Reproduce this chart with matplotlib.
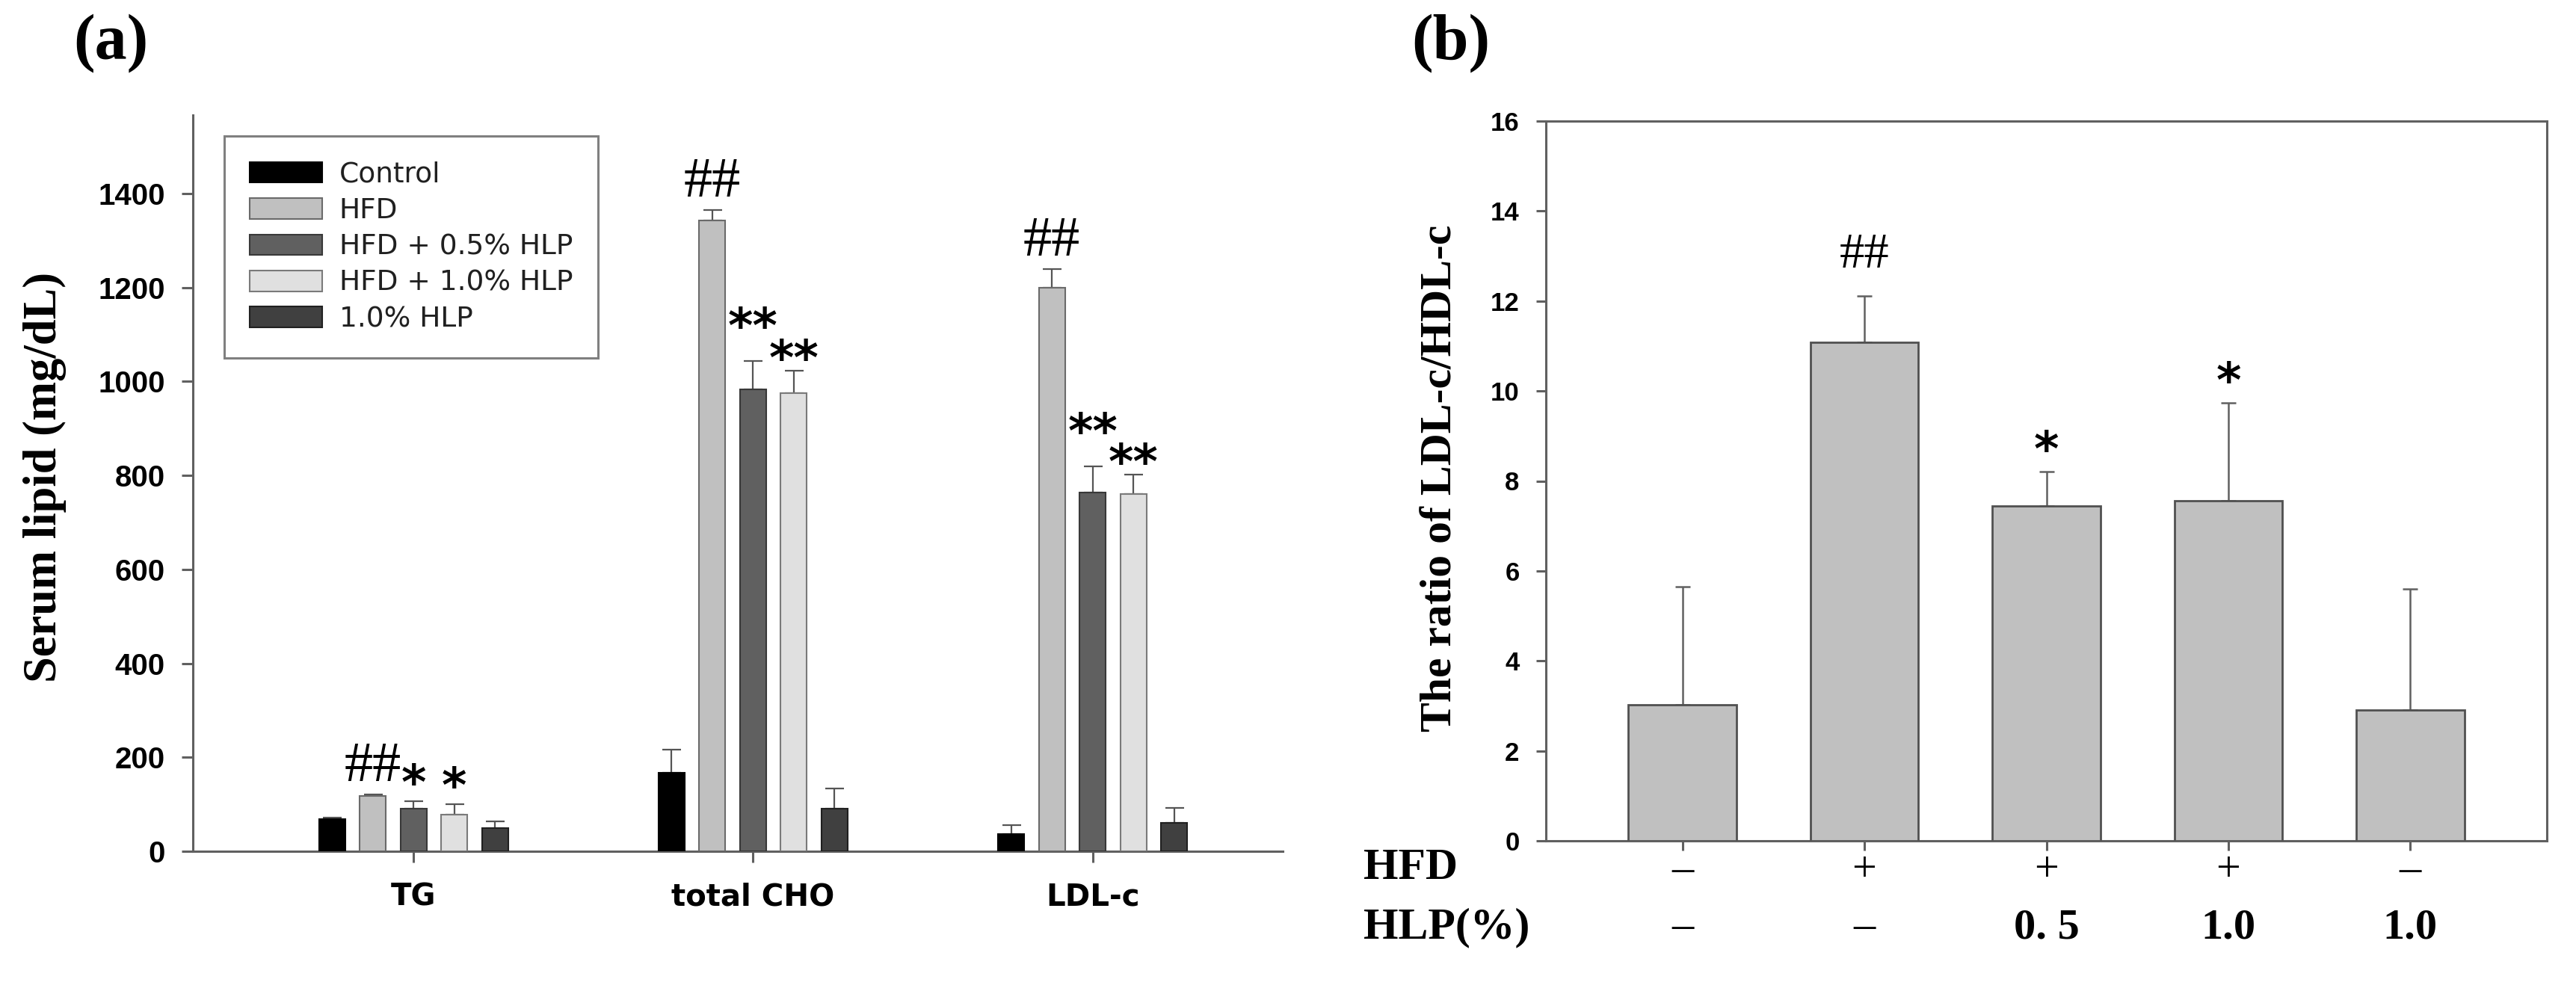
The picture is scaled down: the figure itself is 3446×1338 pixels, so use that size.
import matplotlib
matplotlib.use('Agg')
import matplotlib.pyplot as plt
import numpy as np
from matplotlib.font_manager import FontProperties
from matplotlib.transforms import offset_copy, blended_transform_factory

# ---------------- data ----------------
categories = ['TG', 'total CHO', 'LDL-c']
groups = ['Control', 'HFD', 'HFD + 0.5% HLP', 'HFD + 1.0% HLP', '1.0% HLP']

control = [69, 167, 37]
control_err = [3, 49, 19]
hfd = [118, 1342, 1199]
hfd_err = [3, 23, 40]
hfd_05 = [91, 983, 763]
hfd_05_err = [16, 60, 57]
hfd_10 = [78, 975, 760]
hfd_10_err = [22, 48, 42]
hlp_10 = [49, 91, 61]
hlp_10_err = [15, 43, 32]

# significance marks per series (index aligned with categories)
marks_a = [
    ['', '', ''],
    ['##', '##', '##'],
    ['*', '**', '**'],
    ['*', '**', '**'],
    ['', '', ''],
]

ratio_values = [3.02, 11.08, 7.44, 7.56, 2.90]
ratio_err = [2.63, 1.03, 0.76, 2.17, 2.70]
ratio_marks = ['', '##', '*', '*', '']
hfd_row = ['\u2013', '+', '+', '+', '\u2013']
hlp_row = ['\u2013', '\u2013', '0. 5', '1.0', '1.0']

# ---------------- styling ----------------
W, H = 3446, 1338
fig = plt.figure(figsize=(W / 100, H / 100), dpi=100)

serif_b = dict(family='Liberation Serif', weight='bold')
spine_col = '#606060'

# ---------- panel (a) ----------
axA = fig.add_axes([258 / W, 1 - 1139 / H, (1716 - 258) / W, (1139 - 154) / H])
series = [control, hfd, hfd_05, hfd_10, hlp_10]
series_err = [control_err, hfd_err, hfd_05_err, hfd_10_err, hlp_10_err]
fills = ['#000000', '#c0c0c0', '#606060', '#e0e0e0', '#404040']
edges = ['#000000', '#6a6a6a', '#383838', '#7a7a7a', '#202020']
star_lift = [0, 0, 25, -5, 0]   # pixel lift of the double-star marks per series
step, width = 0.12, 0.077
xc = np.arange(len(categories))
for i, (vals, errs) in enumerate(zip(series, series_err)):
    x = xc + (i - 2) * step
    axA.errorbar(x, vals, yerr=[np.zeros(len(vals)), errs], fmt='none',
                 ecolor='#555555', elinewidth=1.6, capsize=9, capthick=1.6, zorder=2)
    axA.bar(x, vals, width, color=fills[i], edgecolor=edges[i], linewidth=1.5,
            label=groups[i], zorder=3)
    for j, m in enumerate(marks_a[i]):
        if not m:
            continue
        top = vals[j] + errs[j]
        if m == '##':
            tr = offset_copy(axA.transData, fig=fig, x=0, y=18, units='dots')
            axA.text(x[j], top, m, transform=tr, ha='center', va='baseline',
                     family='Liberation Serif', fontsize=55, zorder=5)
        else:
            lift = star_lift[i] if m == '**' else 3
            tr = offset_copy(axA.transData, fig=fig, x=0, y=lift, units='dots')
            axA.text(x[j], top, m, transform=tr, ha='center', va='baseline',
                     family='DejaVu Sans', weight='bold', fontsize=46, zorder=5)

axA.set_xlim(-0.65, 2.56)
axA.set_ylim(0, 1567)
axA.set_yticks(np.arange(0, 1401, 200))
axA.set_xticks(xc)
axA.set_xticklabels(categories)
for s in ['top', 'right']:
    axA.spines[s].set_visible(False)
for s in ['left', 'bottom']:
    axA.spines[s].set_color(spine_col)
    axA.spines[s].set_linewidth(2.2)
axA.tick_params(axis='both', direction='out', length=10.8, width=2.2, color=spine_col)
axA.tick_params(axis='y', pad=16)
axA.tick_params(axis='x', pad=19)
for lab in axA.get_yticklabels():
    lab.set_fontproperties(FontProperties(family='Liberation Sans', weight='bold', size=29))
for lab in axA.get_xticklabels():
    lab.set_fontproperties(FontProperties(family='DejaVu Sans', weight='bold', size=29))

leg = axA.legend(loc='upper left', bbox_to_anchor=(300 / W, 1 - 182 / H),
                 bbox_transform=fig.transFigure, borderaxespad=0,
                 prop=FontProperties(family='DejaVu Sans', size=27),
                 handlelength=2.6, handleheight=0.75, handletextpad=0.6,
                 labelspacing=0.33, borderpad=0.9, frameon=True, fancybox=False,
                 edgecolor='#808080', framealpha=1)
leg.get_frame().set_linewidth(2.2)
for t in leg.get_texts():
    t.set_color('#202020')

fig.text(98 / W, 1 - 18 / H, '(a)', ha='left', va='top', fontsize=62, **serif_b)
fig.text(0.0174, 0.523, 'Serum lipid (mg/dL)', rotation=90, ha='center', va='center',
         fontsize=45, **serif_b)

# ---------- panel (b) ----------
axB = fig.add_axes([2068 / W, 1 - 1125 / H, (3407 - 2068) / W, (1125 - 162) / H])
xb = np.arange(len(ratio_values))
axB.errorbar(xb, ratio_values, yerr=[np.zeros(len(xb)), ratio_err], fmt='none',
             ecolor='#606060', elinewidth=1.8, capsize=7, capthick=1.8, zorder=2)
axB.bar(xb, ratio_values, 0.595, color='#c0c0c0', edgecolor='#505050', linewidth=2, zorder=3)
for j, m in enumerate(ratio_marks):
    if not m:
        continue
    top = ratio_values[j] + ratio_err[j]
    if m == '##':
        tr = offset_copy(axB.transData, fig=fig, x=0, y=38, units='dots')
        axB.text(xb[j], top, m, transform=tr, ha='center', va='baseline',
                 family='Liberation Serif', fontsize=48, zorder=5)
    else:
        tr = offset_copy(axB.transData, fig=fig, x=0, y=8, units='dots')
        axB.text(xb[j], top, m, transform=tr, ha='center', va='baseline',
                 family='DejaVu Sans', weight='bold', fontsize=46, zorder=5)

axB.set_xlim(-0.75, 4.75)
axB.set_ylim(0, 16)
axB.set_yticks(np.arange(0, 17, 2))
axB.set_xticks(xb)
axB.set_xticklabels([''] * len(xb))
for s in axB.spines.values():
    s.set_color(spine_col)
    s.set_linewidth(2.2)
axB.tick_params(axis='both', direction='out', length=9.5, width=2.2, color=spine_col)
axB.tick_params(axis='y', pad=16)
for lab in axB.get_yticklabels():
    lab.set_fontproperties(FontProperties(family='Liberation Sans', weight='bold', size=25))

trB = blended_transform_factory(axB.transData, axB.transAxes)
for j in range(len(xb)):
    axB.text(xb[j], -0.0415, hfd_row[j], transform=trB, ha='center', va='center',
             family='Liberation Serif', fontsize=42, clip_on=False)
    bold = hlp_row[j] not in ('\u2013',)
    axB.text(xb[j], -0.1205, hlp_row[j], transform=trB, ha='center', va='center',
             family='Liberation Serif', weight='bold' if bold else 'normal',
             fontsize=42, clip_on=False)

fig.text(1824 / W, 1 - 1162 / H, 'HFD', ha='left', va='center', fontsize=43, **serif_b)
fig.text(1824 / W, 1 - 1241 / H, 'HLP(%)', ha='left', va='center', fontsize=43, **serif_b)

fig.text(1888 / W, 1 - 18 / H, '(b)', ha='left', va='top', fontsize=62, **serif_b)
fig.text(0.5592, 0.5217, 'The ratio of LDL-c/HDL-c', rotation=90, ha='center', va='center',
         fontsize=43, **serif_b)

fig.savefig('out.png', dpi=100, facecolor='white')
